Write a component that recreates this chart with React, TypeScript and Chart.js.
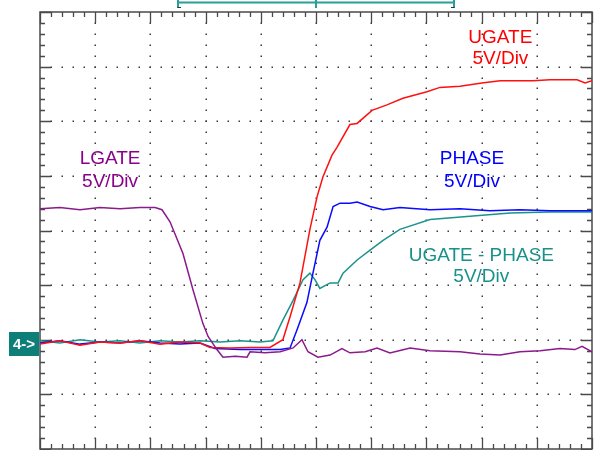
import React, { useEffect, useRef } from "react";
import { Chart, registerables } from "chart.js";

Chart.register(...registerables);

// Time in ns (20 ns/div, trigger at 0), voltage in V (5 V/div)
const X_MIN = -100;
const X_MAX = 100;
const X_DIV = 20;
const Y_MIN = -10;
const Y_MAX = 30;
const Y_DIV = 5;
const MINOR_PER_DIV = 5;

const LGATE_T = [-100, -92.8, -85.5, -78.3, -71.0, -63.8, -58.3, -55.8, -52.9, -48.2, -44.6, -41.0, -39.1, -35.9, -33.7, -29.3, -25.0, -23.9, -18.5, -13.0, -8.3, -5.1, -2.9, 0.7, 5.1, 9.4, 12.3, 17.8, 22.1, 26.8, 34.1, 41.3, 52.2, 59.4, 66.7, 73.9, 81.2, 88.4, 93.8, 96.4, 100];
const LGATE_V = [12.0, 12.1, 11.9, 12.1, 12.0, 12.1, 12.1, 11.9, 10.8, 7.9, 4.6, 1.5, 0.3, -0.9, -1.6, -1.5, -1.6, -1.1, -1.2, -1.1, -0.75, 0.0, -1.1, -1.6, -1.4, -0.8, -1.2, -1.1, -0.75, -1.2, -0.75, -1.0, -1.1, -1.3, -1.4, -1.1, -1.0, -0.8, -0.9, -0.6, -1.1];

const UGATE_T = [-100, -92.8, -85.5, -78.3, -71.0, -63.8, -56.5, -49.3, -42.0, -38.4, -31.2, -23.9, -16.7, -12.0, -9.4, -5.8, -2.2, 0.4, 2.5, 5.8, 7.6, 12.3, 14.9, 20.3, 25.7, 31.5, 40.2, 44.9, 52.2, 60.1, 66.7, 78.6, 84.8, 94.6, 97.5, 100];
const UGATE_V = [-0.4, -0.1, -0.5, -0.2, -0.3, -0.1, -0.4, -0.2, -0.3, -0.7, -0.75, -0.7, -0.7, 0.0, 2.1, 5.2, 10.1, 13.1, 14.9, 16.9, 17.6, 19.7, 19.8, 21.0, 21.5, 22.1, 22.7, 23.1, 23.2, 23.5, 23.7, 23.7, 23.8, 23.8, 23.5, 23.7];

const PHASE_T = [-100, -92.8, -85.5, -78.3, -71.0, -63.8, -56.5, -49.3, -42.0, -36.6, -27.5, -20.3, -13.0, -9.4, -6.9, -3.3, -1.1, 1.4, 4.0, 6.2, 8.7, 12.3, 14.9, 19.6, 24.3, 30.4, 41.3, 52.2, 63.0, 73.9, 84.8, 92.0, 100];
const PHASE_V = [-0.3, -0.1, -0.4, -0.2, -0.3, -0.1, -0.3, -0.4, -0.3, -0.8, -0.9, -0.9, -0.9, -0.75, 0.9, 3.4, 6.1, 9.1, 10.3, 12.2, 12.5, 12.5, 12.6, 12.2, 11.9, 12.1, 11.9, 12.0, 11.8, 11.9, 11.8, 11.8, 11.8];

const DIFF_T = [-100, -92.8, -85.5, -78.3, -71.0, -63.8, -56.5, -49.3, -42.0, -34.8, -27.5, -20.3, -15.6, -12.0, -8.3, -4.7, -2.2, -0.4, 1.4, 5.1, 8.0, 9.8, 14.9, 19.6, 24.3, 30.4, 41.3, 55.8, 70.3, 84.8, 100];
const DIFF_V = [-0.1, -0.3, 0.0, -0.2, -0.1, -0.3, -0.1, -0.2, -0.1, -0.2, -0.1, -0.2, -0.1, 1.8, 3.6, 5.5, 6.1, 5.5, 4.7, 5.2, 5.2, 6.1, 7.3, 8.2, 9.1, 10.1, 11.0, 11.3, 11.6, 11.7, 11.7];

const LABEL_LINES = [["UGATE", "5V/Div"], ["PHASE", "5V/Div"], ["LGATE", "5V/Div"], ["UGATE - PHASE", "5V/Div"]];
const LABEL_T = [66.8, 56.5, -74.6, 59.9];
const LABEL_V1 = [27.2, 16.1, 16.1, 7.2];
const LABEL_V2 = [25.2, 14.0, 14.0, 5.3];
const LABEL_COLORS = ["#ff0000", "#0000ff", "#8b008b", "#17918a"];

const WINDOW_T = [-50, 0, 50];
const CH4_GROUND = -0.4;
const CH4_LABEL = "4->";

const pts = (t: number[], v: number[]) => t.map((x, i) => ({ x, y: v[i] }));

const scopePlugin = {
  id: "scopePlugin",
  beforeDatasetsDraw(chart: any) {
    const { ctx, chartArea, scales } = chart;
    const { left, right, top, bottom } = chartArea;
    const xs = scales.x;
    const ys = scales.y;
    ctx.save();
    ctx.fillStyle = "#3a3a3a";
    const xMinor = X_DIV / MINOR_PER_DIV;
    const yMinor = Y_DIV / MINOR_PER_DIV;
    // dotted grid along vertical major lines
    for (let xv = X_MIN + X_DIV; xv < X_MAX; xv += X_DIV) {
      const px = Math.round(xs.getPixelForValue(xv));
      for (let yv = Y_MIN + yMinor; yv < Y_MAX - 1e-6; yv += yMinor) {
        const py = Math.round(ys.getPixelForValue(yv));
        ctx.fillRect(px - 0.5, py - 0.5, 1.5, 1.5);
      }
    }
    for (let yv = Y_MIN + Y_DIV; yv < Y_MAX; yv += Y_DIV) {
      const py = Math.round(ys.getPixelForValue(yv));
      for (let xv = X_MIN + xMinor; xv < X_MAX - 1e-6; xv += xMinor) {
        const px = Math.round(xs.getPixelForValue(xv));
        ctx.fillRect(px - 0.5, py - 0.5, 1.5, 1.5);
      }
    }
    // border
    ctx.strokeStyle = "#4a4a4a";
    ctx.lineWidth = 1.5;
    ctx.strokeRect(left, top, right - left, bottom - top);
    // ticks
    ctx.lineWidth = 1.3;
    ctx.beginPath();
    let k = 0;
    for (let xv = X_MIN; xv <= X_MAX + 1e-6; xv += xMinor, k++) {
      const px = Math.round(xs.getPixelForValue(xv)) + 0.5;
      const len = k % MINOR_PER_DIV === 0 ? 11 : 5;
      ctx.moveTo(px, top);
      ctx.lineTo(px, top + len);
      ctx.moveTo(px, bottom);
      ctx.lineTo(px, bottom - len);
    }
    k = 0;
    for (let yv = Y_MIN; yv <= Y_MAX + 1e-6; yv += yMinor, k++) {
      const py = Math.round(ys.getPixelForValue(yv)) + 0.5;
      const len = k % MINOR_PER_DIV === 0 ? 11 : 5;
      ctx.moveTo(left, py);
      ctx.lineTo(left + len, py);
      ctx.moveTo(right, py);
      ctx.lineTo(right - len, py);
    }
    ctx.stroke();
    ctx.restore();
  },
  afterDraw(chart: any) {
    const { ctx, scales } = chart;
    const xs = scales.x;
    const ys = scales.y;
    ctx.save();
    // labels
    ctx.font = '19px "Liberation Sans", Arial, sans-serif';
    ctx.textAlign = "center";
    ctx.textBaseline = "alphabetic";
    LABEL_LINES.forEach((lines, i) => {
      ctx.fillStyle = LABEL_COLORS[i];
      const px = xs.getPixelForValue(LABEL_T[i]);
      ctx.fillText(lines[0], px, ys.getPixelForValue(LABEL_V1[i]));
      ctx.fillText(lines[1], px, ys.getPixelForValue(LABEL_V2[i]));
    });
    // record window bracket at the top
    const wl = Math.round(xs.getPixelForValue(WINDOW_T[0]));
    const wc = Math.round(xs.getPixelForValue(WINDOW_T[1]));
    const wr = Math.round(xs.getPixelForValue(WINDOW_T[2]));
    ctx.strokeStyle = "#2a9e98";
    ctx.lineWidth = 2;
    ctx.beginPath();
    ctx.moveTo(wl, 2.5);
    ctx.lineTo(wr, 2.5);
    ctx.moveTo(wl, 0);
    ctx.lineTo(wl, 8);
    ctx.moveTo(wc, 0);
    ctx.lineTo(wc, 8);
    ctx.moveTo(wr, 0);
    ctx.lineTo(wr, 8);
    ctx.stroke();
    ctx.strokeStyle = "#333";
    ctx.lineWidth = 1;
    ctx.beginPath();
    ctx.moveTo(wl - 0.5, 7.5);
    ctx.lineTo(wl + 3, 7.5);
    ctx.moveTo(wr + 0.5, 7.5);
    ctx.lineTo(wr - 3, 7.5);
    ctx.stroke();
    // channel 4 ground marker
    const gy = ys.getPixelForValue(CH4_GROUND);
    ctx.fillStyle = "#0e7e79";
    ctx.fillRect(9, Math.round(gy - 12), 30, 24);
    ctx.fillStyle = "#ffffff";
    ctx.font = 'bold 15px "Liberation Sans", Arial, sans-serif';
    ctx.textAlign = "center";
    ctx.textBaseline = "middle";
    ctx.fillText(CH4_LABEL, 24, gy + 1);
    ctx.restore();
  },
};

export default function App() {
  const ref = useRef<HTMLCanvasElement | null>(null);
  useEffect(() => {
    if (!ref.current) return;
    const line = (data: any, color: string) => ({
      data,
      borderColor: color,
      backgroundColor: color,
      borderWidth: 1.5,
      pointRadius: 0,
      tension: 0,
      fill: false,
    });
    const chart = new Chart(ref.current, {
      type: "line",
      data: {
        datasets: [
          { label: "LGATE", ...line(pts(LGATE_T, LGATE_V), "#8b1a8b") },
          { label: "UGATE", ...line(pts(UGATE_T, UGATE_V), "#ff1010") },
          { label: "PHASE", ...line(pts(PHASE_T, PHASE_V), "#0a0aff") },
          { label: "UGATE - PHASE", ...line(pts(DIFF_T, DIFF_V), "#1a938c") },
        ],
      },
      options: {
        animation: false,
        responsive: false,
        maintainAspectRatio: false,
        parsing: false as any,
        layout: { padding: { left: 40, right: 7, top: 12, bottom: 1 } },
        plugins: { legend: { display: false }, tooltip: { enabled: false } },
        scales: {
          x: { type: "linear", min: X_MIN, max: X_MAX, display: false },
          y: { type: "linear", min: Y_MIN, max: Y_MAX, display: false },
        },
      },
      plugins: [scopePlugin],
    });
    return () => chart.destroy();
  }, []);
  return (
    <div style={{ position: "fixed", left: 0, top: 0, width: 599, height: 450, background: "#fff" }}>
      <canvas ref={ref} width={599} height={450} style={{ width: 599, height: 450, display: "block" }} />
    </div>
  );
}
